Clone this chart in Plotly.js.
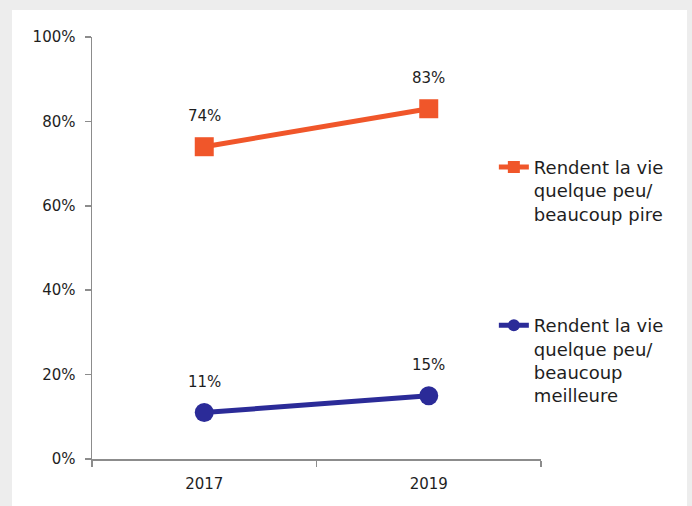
<!DOCTYPE html>
<html>
<head>
<meta charset="utf-8">
<script src="https://cdn.plot.ly/plotly-3.0.1.min.js"></script>
<style>
  html, body { margin: 0; padding: 0; background: #ededed; width: 692px; height: 506px; overflow: hidden; }
  #chart { position: absolute; left: 12px; top: 10px; width: 675px; height: 496px; }
</style>
</head>
<body>
<div id="chart"></div>
<script>
const years = ["2017", "2019"];
const pireValues = [0.74, 0.83];
const meilleureValues = [0.11, 0.15];
const pireName = "Rendent la vie<br>quelque peu/<br>beaucoup pire";
const meilleureName = "Rendent la vie<br>quelque peu/<br>beaucoup<br>meilleure";
const yTickVals = [0, 0.2, 0.4, 0.6, 0.8, 1.0];

const font = "'DejaVu Sans', sans-serif";
const textColor = "#1e1e1e";
const orange = "#F0562A";
const blue = "#2B2B98";

const traces = [
  {
    x: years, y: pireValues, name: pireName, legendgroup: "a",
    type: "scatter", mode: "lines+markers",
    line: {color: orange, width: 5},
    marker: {symbol: "square", size: 19, color: orange},
    hoverinfo: "skip"
  },
  {
    x: years, y: meilleureValues, name: meilleureName, legendgroup: "b",
    type: "scatter", mode: "lines+markers",
    line: {color: blue, width: 5},
    marker: {symbol: "circle", size: 19, color: blue},
    hoverinfo: "skip"
  }
];

const fmt = v => Math.round(v * 100) + "%";
const annotations = [];
[pireValues, meilleureValues].forEach(vals => {
  vals.forEach((v, i) => {
    annotations.push({
      x: i, y: v, xref: "x", yref: "y",
      text: fmt(v), showarrow: false, yshift: 31,
      font: {family: font, size: 15, color: textColor}
    });
  });
});

const layout = {
  width: 675, height: 496,
  margin: {l: 80, r: 146, t: 27, b: 47},
  paper_bgcolor: "#ffffff",
  plot_bgcolor: "#ffffff",
  font: {family: font, size: 15, color: textColor},
  showlegend: true,
  legend: {
    x: 0.895, xanchor: "left", y: 0.735, yanchor: "top",
    valign: "top", tracegroupgap: 85, traceorder: "grouped",
    itemsizing: "constant",
    font: {family: font, size: 18, color: textColor},
    bgcolor: "rgba(0,0,0,0)"
  },
  annotations: annotations,
  xaxis: {
    type: "category", range: [-0.5, 1.5],
    showline: true, linecolor: "#8c8c8c", linewidth: 1.5,
    ticks: "outside", tickson: "boundaries", ticklen: 6, tickcolor: "#8c8c8c", tickwidth: 1.5,
    ticklabelstandoff: 10,
    showgrid: false, zeroline: false,
    tickfont: {family: font, size: 15, color: textColor}
  },
  yaxis: {
    range: [0, 1], tickvals: yTickVals, tickformat: ".0%",
    showline: true, linecolor: "#8c8c8c", linewidth: 1.5,
    ticks: "outside", ticklen: 6, tickcolor: "#8c8c8c", tickwidth: 1.5,
    ticklabelstandoff: 6,
    showgrid: false, zeroline: false,
    tickfont: {family: font, size: 15, color: textColor}
  }
};

Plotly.newPlot("chart", traces, layout, {staticPlot: true, displayModeBar: false});
</script>
</body>
</html>
